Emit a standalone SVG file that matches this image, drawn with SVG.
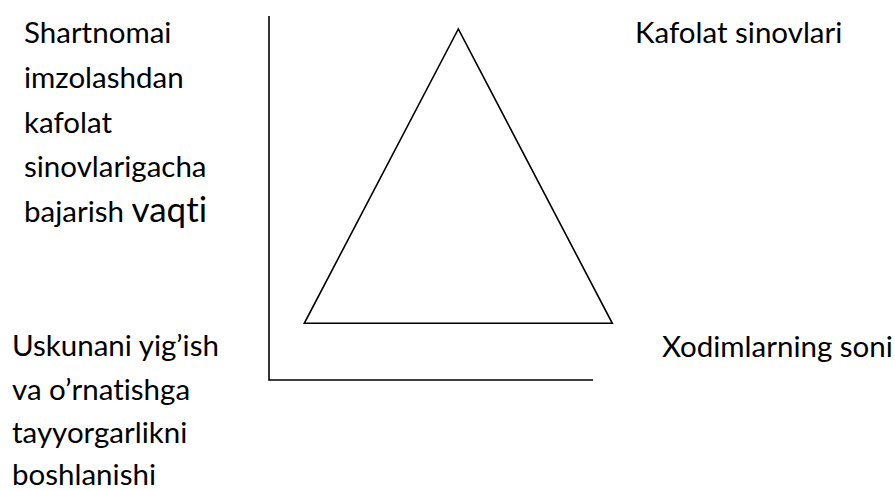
<svg xmlns="http://www.w3.org/2000/svg" width="895" height="490" viewBox="0 0 895 490">
<style>
.t{font-family:Lato,"Liberation Sans",sans-serif;font-size:29.5px;fill:#000;font-variant-ligatures:none;font-feature-settings:"liga" 0}
.big{font-size:35px}
.ln{fill:none;stroke:#000;stroke-width:1.6}
</style>
<rect width="895" height="490" fill="#fff"/>
<g id="connectors">
<polyline class="ln" points="269,16 269,380 593,380"/>
</g>
<g id="triangle">
<polygon class="ln" points="458.3,29 304.3,323.3 612.3,323.3"/>
</g>
<g id="label-time">
<text class="t" x="24" y="43">Shartnomai</text>
<text class="t" x="24" y="88">imzolashdan</text>
<text class="t" x="24" y="133">kafolat</text>
<text class="t" x="24" y="177">sinovlarigacha</text>
<text class="t" x="24" y="222">bajarish <tspan class="big">vaqti</tspan></text>
</g>
<g id="label-start">
<text class="t" x="12" y="356">Uskunani yig’ish</text>
<text class="t" x="12" y="400">va o’rnatishga</text>
<text class="t" x="12" y="443">tayyorgarlikni</text>
<text class="t" x="12" y="485">boshlanishi</text>
</g>
<g id="label-tests">
<text class="t" x="635" y="43">Kafolat sinovlari</text>
</g>
<g id="label-staff">
<text class="t" x="662" y="357">Xodimlarning soni</text>
</g>
</svg>
